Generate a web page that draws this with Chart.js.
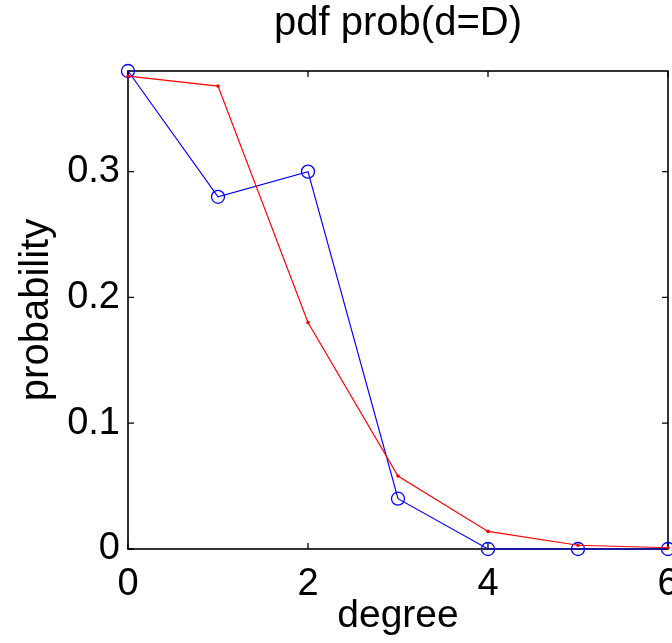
<!DOCTYPE html>
<html>
<head>
<meta charset="utf-8">
<script src="https://cdn.jsdelivr.net/npm/chart.js@4.4.1/dist/chart.umd.min.js"></script>
<style>
  html, body { margin: 0; padding: 0; background: #ffffff; overflow: hidden; width: 672px; height: 643px; }
  #wrap { position: absolute; left: 0; top: 0; width: 700px; height: 643px; }
</style>
</head>
<body>
<div id="wrap"><canvas id="c" width="700" height="643"></canvas></div>
<script>
// ---- data ----
const degrees = [0, 1, 2, 3, 4, 5, 6];
const observedProb = [0.380, 0.280, 0.300, 0.040, 0.000, 0.000, 0.000]; // blue, circles
const modelProb    = [0.376, 0.368, 0.180, 0.058, 0.014, 0.003, 0.001]; // red, dots
const xTickValues = [0, 2, 4, 6];
const yTickValues = [0, 0.1, 0.2, 0.3];
const chartTitle = 'pdf prob(d=D)';
const xLabel = 'degree';
const yLabel = 'probability';

const FONT = '"Liberation Sans", Arial, Helvetica, sans-serif';
const FS = 38;

const toPts = (ys) => degrees.map((d, i) => ({ x: d, y: ys[i] }));

// MATLAB-like box with inward ticks on all four sides
const boxPlugin = {
  id: 'matlabBox',
  beforeDatasetsDraw(chart) {
    const { ctx, chartArea: a, scales } = chart;
    ctx.save();
    ctx.strokeStyle = '#000000';
    ctx.lineWidth = 1.6;
    ctx.strokeRect(a.left, a.top, a.right - a.left, a.bottom - a.top);
    const tl = 6;
    ctx.lineWidth = 1.3;
    ctx.beginPath();
    xTickValues.forEach(v => {
      const px = scales.x.getPixelForValue(v);
      ctx.moveTo(px, a.bottom); ctx.lineTo(px, a.bottom - tl);
      ctx.moveTo(px, a.top); ctx.lineTo(px, a.top + tl);
    });
    yTickValues.forEach(v => {
      const py = scales.y.getPixelForValue(v);
      ctx.moveTo(a.left, py); ctx.lineTo(a.left + tl, py);
      ctx.moveTo(a.right, py); ctx.lineTo(a.right - tl, py);
    });
    ctx.stroke();
    ctx.restore();
  }
};

new Chart(document.getElementById('c'), {
  type: 'line',
  data: {
    datasets: [
      {
        label: 'model',
        data: toPts(modelProb),
        borderColor: '#ff0000',
        backgroundColor: '#ff0000',
        borderWidth: 1.2,
        pointRadius: 1.8,
        pointBorderWidth: 0,
        pointBackgroundColor: '#ff0000',
        tension: 0,
        clip: false
      },
      {
        label: 'observed',
        data: toPts(observedProb),
        borderColor: '#0000ff',
        backgroundColor: 'rgba(0,0,0,0)',
        borderWidth: 1.2,
        pointRadius: 6.5,
        pointBorderWidth: 1.3,
        pointBorderColor: '#0000ff',
        pointBackgroundColor: 'rgba(0,0,0,0)',
        pointStyle: 'circle',
        tension: 0,
        clip: false
      }
    ]
  },
  options: {
    responsive: false,
    animation: false,
    devicePixelRatio: 1,
    layout: { padding: { left: 10, right: 32, top: 0, bottom: 0 } },
    plugins: {
      legend: { display: false },
      tooltip: { enabled: false },
      title: {
        display: true,
        text: chartTitle,
        fullSize: false,
        color: '#000000',
        font: { family: FONT, size: 40, weight: 'normal' },
        padding: { top: 0, bottom: 23 }
      }
    },
    scales: {
      x: {
        type: 'linear',
        min: 0,
        max: 6,
        grid: { display: false, drawTicks: false },
        border: { display: false },
        afterBuildTicks: (s) => { s.ticks = xTickValues.map(v => ({ value: v })); },
        afterFit: (s) => { s.height = 94; },
        ticks: {
          color: '#000000',
          font: { family: FONT, size: FS },
          padding: 13,
          maxRotation: 0,
          callback: (v) => String(v)
        },
        title: {
          display: true,
          text: xLabel,
          color: '#000000',
          font: { family: FONT, size: 39 },
          padding: { top: 0, bottom: 3 }
        }
      },
      y: {
        type: 'linear',
        min: 0,
        max: 0.38,
        grid: { display: false, drawTicks: false },
        border: { display: false },
        afterBuildTicks: (s) => { s.ticks = yTickValues.map(v => ({ value: v })); },
        afterFit: (s) => { s.width = 118; },
        ticks: {
          color: '#000000',
          font: { family: FONT, size: FS },
          padding: 8,
          callback: (v) => (v === 0 ? '0' : String(Math.round(v * 10) / 10))
        },
        title: {
          display: true,
          text: yLabel,
          color: '#000000',
          font: { family: FONT, size: 40 },
          padding: { top: 3, bottom: 0 }
        }
      }
    }
  },
  plugins: [boxPlugin]
});
</script>
</body>
</html>
